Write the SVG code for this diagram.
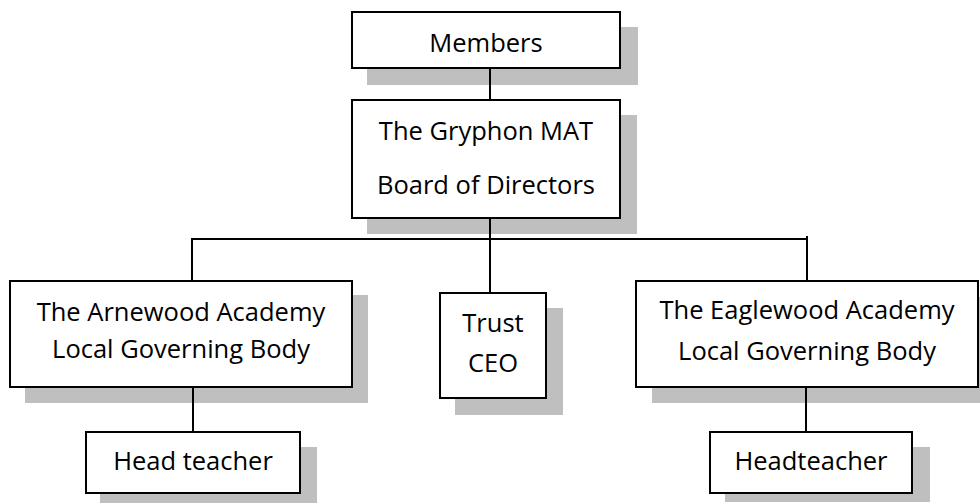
<svg xmlns="http://www.w3.org/2000/svg" width="980" height="503" viewBox="0 0 980 503">
  <style>
    .shadow { fill: #bfbfbf; stroke: none; }
    .box { fill: #ffffff; stroke: #000000; stroke-width: 2; }
    .label { font-family: "Open Sans", "Noto Sans", sans-serif; font-size: 25.5px; fill: #000000; text-anchor: middle; }
    .link { fill: none; stroke: #000000; stroke-width: 2; }
  </style>
  <rect width="980" height="503" fill="#ffffff"/>

  <g id="members">
    <rect class="shadow" x="367" y="27" width="271" height="58"/>
    <rect class="box" x="352" y="12" width="268" height="56"/>
    <text class="label" x="486" y="52">Members</text>
  </g>

  <g id="board">
    <rect class="shadow" x="367" y="115" width="270" height="119"/>
    <rect class="box" x="352" y="100" width="268" height="118"/>
    <text class="label" x="486" y="140">The Gryphon MAT</text>
    <text class="label" x="486" y="194">Board of Directors</text>
  </g>

  <g id="arnewood">
    <rect class="shadow" x="25" y="295" width="343" height="108"/>
    <rect class="box" x="10" y="281" width="342" height="106"/>
    <text class="label" x="181" y="321">The Arnewood Academy</text>
    <text class="label" x="181" y="358">Local Governing Body</text>
  </g>

  <g id="ceo">
    <rect class="shadow" x="455" y="308" width="108" height="107"/>
    <rect class="box" x="440" y="293" width="106" height="105"/>
    <text class="label" x="493" y="332">Trust</text>
    <text class="label" x="493" y="372">CEO</text>
  </g>

  <g id="eaglewood">
    <rect class="shadow" x="652" y="297" width="330" height="106"/>
    <rect class="box" x="636" y="281" width="342" height="106"/>
    <text class="label" x="807" y="319">The Eaglewood Academy</text>
    <text class="label" x="807" y="360">Local Governing Body</text>
  </g>

  <g id="arnewood-head">
    <rect class="shadow" x="100" y="447" width="217" height="56"/>
    <rect class="box" x="86" y="432" width="214" height="61"/>
    <text class="label" x="193" y="470">Head teacher</text>
  </g>

  <g id="eaglewood-head">
    <rect class="shadow" x="725" y="447" width="205" height="55"/>
    <rect class="box" x="710" y="432" width="202" height="61"/>
    <text class="label" x="811" y="470">Headteacher</text>
  </g>

  <g id="connectors">
    <line class="link" x1="490" y1="68" x2="490" y2="100"/>
    <line class="link" x1="490" y1="218" x2="490" y2="293"/>
    <line class="link" x1="192" y1="239" x2="807" y2="239"/>
    <line class="link" x1="192" y1="238" x2="192" y2="281"/>
    <line class="link" x1="807" y1="236" x2="807" y2="281"/>
    <line class="link" x1="193" y1="387" x2="193" y2="432"/>
    <line class="link" x1="806" y1="387" x2="806" y2="432"/>
  </g>
</svg>
